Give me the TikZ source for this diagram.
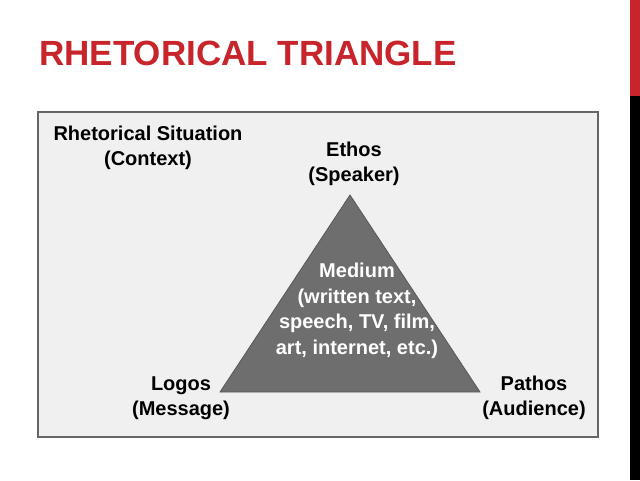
\documentclass[tikz,border=0pt]{standalone}
\usepackage{fontspec}
\setmainfont{Liberation Sans}
\definecolor{tred}{HTML}{C8242B}
\definecolor{boxfill}{HTML}{F0F0F0}
\definecolor{tri}{HTML}{6E6E6E}
\begin{document}
\begin{tikzpicture}[x=1pt,y=-1pt,
  lbl/.style={font=\bfseries\fontsize{20}{25.5}\selectfont, align=center, inner sep=0pt},
  wlbl/.style={lbl, text=white}]
\useasboundingbox (0,0) rectangle (640,480);
\fill[white] (0,0) rectangle (640,480);
\fill[tred] (630,0) rectangle (640,96);
\fill[black] (630,96) rectangle (640,480);
\node[anchor=base west, text=tred, font=\bfseries\fontsize{35}{40}\selectfont, inner sep=0pt] (title) at (39,65) {RHETORICAL TRIANGLE};
\node[draw=gray!80!black, line width=1.2pt, fill=boxfill, minimum width=560pt, minimum height=325pt, inner sep=0pt] (box) at (318,274.5) {};
\coordinate (A) at (350,195);
\coordinate (B) at (220,392);
\coordinate (C) at (480,392);
\filldraw[fill=tri, draw=tri!80!black, line width=0.8pt] (A) -- (B) -- (C) -- cycle;
\node[lbl] (ctx) at (148,148) {Rhetorical Situation\\(Context)};
\node[lbl] (ethos) at (354,164) {Ethos\\(Speaker)};
\node[lbl] (logos) at (181,398) {Logos\\(Message)};
\node[lbl] (pathos) at (534,398) {Pathos\\(Audience)};
\node[wlbl] (medium) at (357,311) {Medium\\(written text,\\speech, TV, film,\\art, internet, etc.)};
\end{tikzpicture}
\end{document}
